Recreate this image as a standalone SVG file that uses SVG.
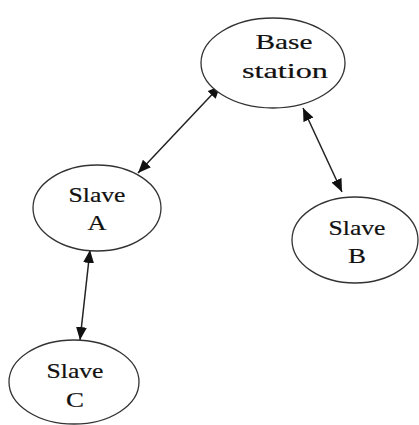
<svg xmlns="http://www.w3.org/2000/svg" width="419" height="425" viewBox="0 0 419 425">
<defs>
<marker id="ah" viewBox="0 0 13 11" refX="13" refY="5.5" markerWidth="13" markerHeight="11" markerUnits="userSpaceOnUse" orient="auto-start-reverse">
<path d="M0,0 L13,5.5 L0,11 z" fill="#111"/>
</marker>
<style>
.node ellipse{fill:#fff;stroke:#333;stroke-width:1.3}
.node text{font-family:"Liberation Serif","Times New Roman",serif;font-size:22px;fill:#111;stroke:#111;stroke-width:0.2;text-anchor:middle}
.conn line{stroke:#222;stroke-width:1.5;marker-start:url(#ah);marker-end:url(#ah)}
</style>
</defs>
<rect width="419" height="425" fill="#fff"/>
<g id="connectors" class="conn">
<line x1="220.5" y1="85.5" x2="138" y2="173"/>
<line x1="303" y1="108" x2="342" y2="192"/>
<line x1="90" y1="250" x2="80" y2="340"/>
</g>
<g id="base-station" class="node">
<ellipse cx="273" cy="63" rx="72" ry="45"/>
<text x="284" y="49" textLength="57" lengthAdjust="spacingAndGlyphs">Base</text>
<text x="285" y="78" textLength="86" lengthAdjust="spacingAndGlyphs">station</text>
</g>
<g id="slave-a" class="node">
<ellipse cx="97" cy="208" rx="64" ry="43"/>
<text x="97" y="202" textLength="57" lengthAdjust="spacingAndGlyphs">Slave</text>
<text x="97" y="230" textLength="19" lengthAdjust="spacingAndGlyphs">A</text>
</g>
<g id="slave-b" class="node">
<ellipse cx="355" cy="240" rx="63" ry="43"/>
<text x="357" y="235" textLength="57" lengthAdjust="spacingAndGlyphs">Slave</text>
<text x="357" y="263" textLength="18" lengthAdjust="spacingAndGlyphs">B</text>
</g>
<g id="slave-c" class="node">
<ellipse cx="74" cy="382" rx="65" ry="42"/>
<text x="75" y="378" textLength="57" lengthAdjust="spacingAndGlyphs">Slave</text>
<text x="75" y="407" textLength="18" lengthAdjust="spacingAndGlyphs">C</text>
</g>
</svg>
